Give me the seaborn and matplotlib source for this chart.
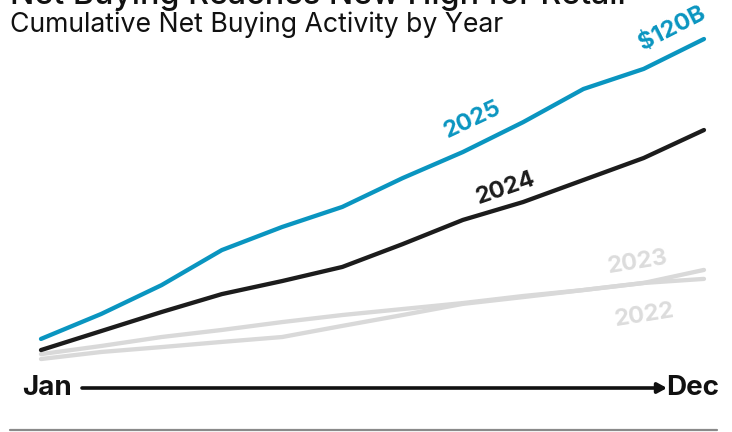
import matplotlib
matplotlib.use("Agg")
import matplotlib.pyplot as plt
import seaborn as sns
import pandas as pd

# Cumulative net buying, $B, by month
months = ["Jan", "Feb", "Mar", "Apr", "May", "Jun",
          "Jul", "Aug", "Sep", "Oct", "Nov", "Dec"]
net_2025 = [9.6, 18.8, 29.4, 42.3, 50.8, 58.2, 68.8, 78.4, 89.4, 101.6, 109.0, 120.0]
net_2024 = [5.5, 12.5, 19.5, 26.1, 30.9, 36.1, 44.5, 53.4, 60.0, 68.1, 76.2, 86.5]
net_2023 = [2.2, 4.8, 6.6, 8.5, 10.3, 14.4, 18.4, 22.5, 25.0, 27.6, 30.2, 35.0]
net_2022 = [4.0, 7.0, 10.3, 12.9, 15.8, 18.4, 20.6, 22.8, 25.4, 27.6, 30.2, 31.7]

years = ["2022", "2023", "2024", "2025"]
series = [net_2022, net_2023, net_2024, net_2025]
colors = {"2022": "#d9d9d9", "2023": "#d9d9d9", "2024": "#1c1c1c", "2025": "#0a95c0"}

rows = []
for yr, vals in zip(years, series):
    for i, v in enumerate(vals):
        rows.append({"month": i, "value": v, "year": yr})
df = pd.DataFrame(rows)

sns.set_style("white")
plt.rcParams["font.family"] = ["Inter", "DejaVu Sans"]

W, H = 732, 432
fig = plt.figure(figsize=(W / 100, H / 100), dpi=100)
ax = fig.add_axes([0, 0, 1, 1])

sns.lineplot(data=df, x="month", y="value", hue="year", palette=colors,
             hue_order=years, linewidth=3.1, legend=False, ax=ax,
             solid_capstyle="round", solid_joinstyle="round")

ax.set_xlim(-0.68, 11.465)
ax.set_ylim(-24.66, 134.36)
ax.axis("off")

# direct labels on the lines
lab = dict(fontweight="bold", fontsize=17, ha="center", va="center",
           rotation_mode="anchor")
ax.text(7.17, 90.2, "2025", color=colors["2025"], rotation=25, **lab)
ax.text(10.47, 123.8, f"${net_2025[-1]:.0f}B", color=colors["2025"], rotation=27, **lab)
ax.text(7.72, 65.2, "2024", color=colors["2024"], rotation=19, **lab)
ax.text(9.91, 37.9, "2023", color="#dcdcdc", rotation=9, **lab)
ax.text(10.02, 18.4, "2022", color="#dcdcdc", rotation=9, **lab)

def fx(px):
    return px / W

def fy(py):
    return 1 - py / H

fig.text(fx(10), fy(4), "Net Buying Reaches New High for Retail",
         fontsize=23.2, fontweight="medium", color="#111111", va="baseline")
fig.text(fx(10), fy(32), "Cumulative Net Buying Activity by Year",
         fontsize=19.2, color="#111111", va="baseline")

# time axis
fig.text(fx(22), fy(388), "Jan", fontsize=20, fontweight="bold",
         color="#111111", va="center", ha="left")
fig.text(fx(719), fy(388), "Dec", fontsize=20, fontweight="bold",
         color="#111111", va="center", ha="right")
ax.annotate("", xy=(fx(667), fy(388)), xytext=(fx(82), fy(388)),
            xycoords="figure fraction", textcoords="figure fraction",
            arrowprops=dict(arrowstyle="-|>,head_length=0.55,head_width=0.3",
                            color="#111111", lw=2.6, shrinkA=0, shrinkB=0))

# bottom rule
fig.add_artist(plt.Line2D([fx(10), fx(717)], [fy(430), fy(430)],
                          color="#8a8a8a", lw=1.6))

fig.savefig("out.png", dpi=100)
